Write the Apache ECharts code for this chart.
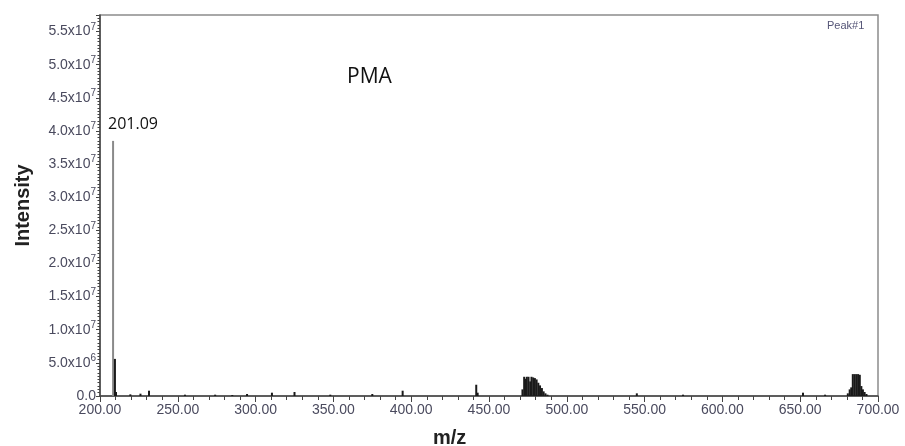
<!DOCTYPE html>
<html>
<head>
<meta charset="utf-8">
<script src="https://cdn.jsdelivr.net/npm/echarts@6/dist/echarts.min.js"></script>
<style>html,body{margin:0;padding:0;background:#fff;}#c{width:905px;height:446px;}</style>
</head>
<body>
<div id="c"></div>
<script>
// m/z positions and intensities
var mainMz = [208.4, 209.6, 210.3];
var mainIntensity = [38500000, 5600000, 600000];

var noiseMz = [219.5, 226, 231.5, 254.6, 274, 285, 294.5, 310.5, 325, 348, 375, 394.5, 441.8, 442.7, 545, 574.7, 651.8, 666];
var noiseIntensity = [250000, 350000, 800000, 200000, 200000, 150000, 300000, 500000, 600000, 200000, 300000, 800000, 1700000, 500000, 400000, 200000, 500000, 200000];

var cluster1Mz = [471.5, 472.6, 473.5, 474.3, 475.4, 476.5, 477.3, 478.4, 479.5, 480.6, 481.7, 482.8, 484.0, 485.1, 486.3, 487.6];
var cluster1Intensity = [1000000, 2900000, 2600000, 2900000, 2900000, 2200000, 2900000, 2800000, 2700000, 2500000, 2000000, 1600000, 1200000, 700000, 400000, 200000];

var cluster2Mz = [680.6, 681.8, 682.8, 683.8, 684.9, 686.0, 687.2, 688.3, 689.3, 690.3, 691.4, 692.6];
var cluster2Intensity = [400000, 1000000, 1300000, 3300000, 3300000, 3300000, 3300000, 3200000, 1500000, 1000000, 600000, 300000];

var peakLabel = '201.09';
var chartTitle = 'PMA';
var xName = 'm/z';
var yName = 'Intensity';
var cornerText = 'Peak#1';

function pairs(xs, ys) { return xs.map(function (x, i) { return [x, ys[i]]; }); }

var mainData = pairs(mainMz, mainIntensity).map(function (d, i) {
  var item = { value: d };
  if (i === 0) {
    item.itemStyle = { color: '#8a8a8a' };
    item.label = {
      show: true, formatter: peakLabel, position: [-4, -24], align: 'left', verticalAlign: 'top',
      fontSize: 16, color: '#111', fontFamily: 'Open Sans'
    };
  }
  return item;
});

var allData = mainData
  .concat(pairs(noiseMz, noiseIntensity))
  .concat(pairs(cluster1Mz, cluster1Intensity))
  .concat(pairs(cluster2Mz, cluster2Intensity));

var chart = echarts.init(document.getElementById('c'));
chart.setOption({
  animation: false,
  backgroundColor: '#fff',
  title: [
    { text: chartTitle, left: 342, top: 62, textStyle: { fontSize: 21, fontWeight: 'normal', color: '#111', fontFamily: 'Open Sans' } },
    { text: xName, left: 428, top: 423, textStyle: { fontSize: 20, fontWeight: 'bold', color: '#222', fontFamily: 'Liberation Sans' } },
    { text: cornerText, left: 822, top: 15, textStyle: { fontSize: 11, fontWeight: 'normal', color: '#555577', fontFamily: 'Liberation Sans' } }
  ],
  grid: { left: 100, right: 27, top: 15, bottom: 50, show: true, borderColor: '#8c8c8c', borderWidth: 1.5, containLabel: false },
  xAxis: {
    type: 'value', min: 200, max: 700, interval: 50,
    axisLine: { show: true, onZero: false, lineStyle: { color: '#444', width: 1.5 } },
    axisTick: { show: true, length: 6, lineStyle: { color: '#444' } },
    minorTick: { show: true, splitNumber: 5, length: 4, lineStyle: { color: '#444' } },
    splitLine: { show: false },
    axisLabel: {
      margin: 7, fontSize: 14, color: '#4a4a5e', fontFamily: 'Liberation Sans',
      formatter: function (v) { return v.toFixed(2); }
    }
  },
  yAxis: {
    type: 'value', min: 0, max: 57500000, interval: 5000000,
    name: yName, nameLocation: 'middle', nameGap: 67,
    nameTextStyle: { fontSize: 20, fontWeight: 'bold', color: '#222', fontFamily: 'Liberation Sans' },
    axisLine: { show: true, lineStyle: { color: '#444', width: 1.5 } },
    axisTick: { show: true, length: 4, lineStyle: { color: '#444' } },
    minorTick: { show: true, splitNumber: 10, length: 2.5, lineStyle: { color: '#444' } },
    splitLine: { show: false },
    axisLabel: {
      margin: 4, showMaxLabel: false, color: '#4a4a5e', fontFamily: 'Liberation Sans',
      formatter: function (v) {
        if (v === 0) return '{n|0.0}';
        if (v % 5000000 !== 0) return '';
        var e = Math.floor(Math.log10(v) + 1e-9);
        var m = v / Math.pow(10, e);
        return '{n|' + m.toFixed(1) + 'x10}{s|' + e + '}';
      },
      rich: {
        n: { fontSize: 14, lineHeight: 19, color: '#4a4a5e', fontFamily: 'Liberation Sans' },
        s: { fontSize: 10, lineHeight: 10, verticalAlign: 'top', color: '#4a4a5e', fontFamily: 'Liberation Sans' }
      }
    }
  },
  series: [{
    type: 'bar',
    barWidth: 2,
    itemStyle: { color: '#1a1a1a' },
    data: allData
  }]
});
</script>
</body>
</html>
